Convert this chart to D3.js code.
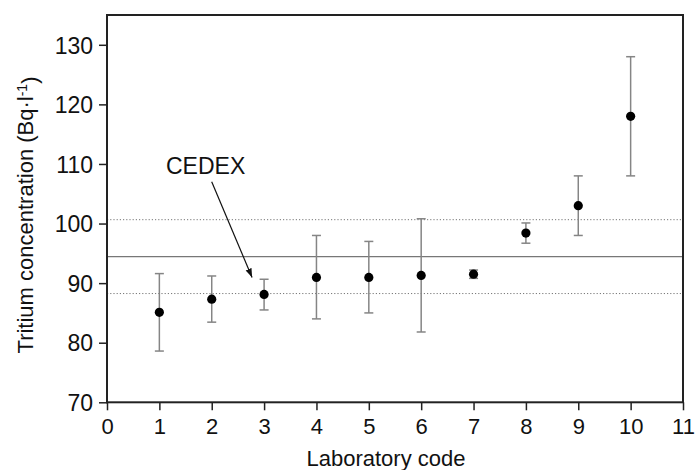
<!DOCTYPE html>
<html><head><meta charset="utf-8">
<script src="https://cdn.jsdelivr.net/npm/d3@7"></script>
<style>body{margin:0;background:#fff}svg{display:block}</style>
</head><body>
<svg id="chart" width="696" height="470"></svg>
<script>
const labCodes = [1,2,3,4,5,6,7,8,9,10];
const values   = [85.1, 87.3, 88.1, 90.95, 90.95, 91.3, 91.5, 98.4, 103.0, 118.0];
const upper    = [91.6, 91.2, 90.65, 98.0, 97.0, 100.8, 92.2, 100.1, 108.0, 128.0];
const lower    = [78.6, 83.45, 85.5, 84.0, 85.0, 81.8, 90.8, 96.7, 98.0, 108.0];
const xTicks = [0,1,2,3,4,5,6,7,8,9,10,11];
const yTicks = [70,80,90,100,110,120,130];
const refMean = 94.45;
const refBand = [100.65, 88.25];
const cedexIndex = 2;

const svg = d3.select("#chart");
const m = {l:107, r:13, t:15, b:67.7};
const W = 696, H = 470;
const x = d3.scaleLinear().domain([0,11]).range([m.l, W-m.r]);
const y = d3.scaleLinear().domain([70,135]).range([H-m.b, m.t]);
const font = "'Liberation Sans', Arial, sans-serif";

// reference lines
svg.append("line").attr("x1",x(0)).attr("x2",x(11)).attr("y1",y(refMean)).attr("y2",y(refMean))
  .attr("stroke","#777").attr("stroke-width",1.3);
svg.selectAll(".band").data(refBand).join("line")
  .attr("x1",x(0)).attr("x2",x(11)).attr("y1",d=>y(d)).attr("y2",d=>y(d))
  .attr("stroke","#777").attr("stroke-width",1).attr("stroke-dasharray","1.2,2");

// error bars
const g = svg.append("g");
labCodes.forEach((c,i)=>{
  const cx = x(c);
  g.append("line").attr("x1",cx).attr("x2",cx).attr("y1",y(upper[i])).attr("y2",y(lower[i]))
    .attr("stroke","#858585").attr("stroke-width",1.5);
  [upper[i],lower[i]].forEach(v=>{
    g.append("line").attr("x1",cx-4.5).attr("x2",cx+4.5).attr("y1",y(v)).attr("y2",y(v))
      .attr("stroke","#858585").attr("stroke-width",1.5);
  });
});
g.selectAll("circle").data(labCodes).join("circle")
  .attr("cx",d=>x(d)).attr("cy",(d,i)=>y(values[i])).attr("r",4.6).attr("fill","#000");

// frame
svg.append("rect").attr("x",x(0)).attr("y",y(135)).attr("width",x(11)-x(0)).attr("height",y(70)-y(135))
  .attr("fill","none").attr("stroke","#222").attr("stroke-width",2);

// axes
const xa = svg.append("g").attr("transform",`translate(0,${y(70)})`)
  .call(d3.axisBottom(x).tickValues(xTicks).tickSize(8).tickPadding(8).tickFormat(d3.format("d")));
const ya = svg.append("g").attr("transform",`translate(${x(0)},0)`)
  .call(d3.axisLeft(y).tickValues(yTicks).tickSize(8).tickPadding(6).tickFormat(d3.format("d")));
[xa,ya].forEach(a=>{
  a.select(".domain").remove();
  a.selectAll(".tick line").attr("stroke","#222").attr("stroke-width",1.5);
  a.selectAll(".tick text").attr("fill","#111").style("font-family",font).style("font-size","22px");
});
ya.selectAll(".tick text").attr("dy","0.36em").style("font-size","23px");

// axis titles
svg.append("text").attr("x",386).attr("y",466).attr("text-anchor","middle")
  .style("font-family",font).style("font-size","22px").attr("fill","#111").text("Laboratory code");
const yt = svg.append("text").attr("transform",`translate(33,${215}) rotate(-90)`).attr("text-anchor","middle")
  .style("font-family",font).style("font-size","22px").attr("fill","#111");
yt.append("tspan").text("Tritium concentration (Bq·l");
yt.append("tspan").attr("dy","-0.45em").style("font-size","14px").text("-1");
yt.append("tspan").attr("dy","0.45em").text(")");

// annotation
svg.append("defs").append("marker").attr("id","arr").attr("viewBox","0 0 10 10")
  .attr("refX",10).attr("refY",5).attr("markerWidth",9).attr("markerHeight",9).attr("orient","auto")
  .attr("markerUnits","userSpaceOnUse")
  .append("path").attr("d","M0,1.5 L10,5 L0,8.5 Z").attr("fill","#111");
svg.append("line").attr("x1",211.7).attr("y1",181.7)
  .attr("x2",x(labCodes[cedexIndex])-12).attr("y2",y(values[cedexIndex])-17)
  .attr("stroke","#111").attr("stroke-width",1.2).attr("marker-end","url(#arr)");
svg.append("text").attr("x",166).attr("y",173.5).style("font-family",font).style("font-size","23px")
  .attr("fill","#111").text("CEDEX");
</script>
</body></html>
